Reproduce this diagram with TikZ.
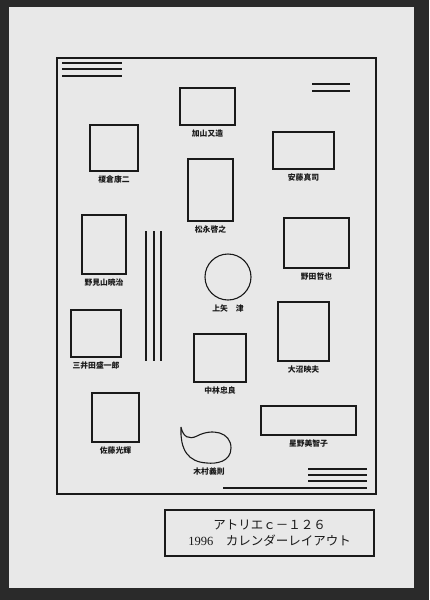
\documentclass[tikz,border=0pt]{standalone}
\usepackage{fontspec}
\setmainfont{Liberation Serif}
\newfontfamily\jpfont{Noto Sans CJK JP}
\usetikzlibrary{positioning}
\definecolor{fondo}{HTML}{2A2A2A}
\definecolor{hoja}{HTML}{E8E8E8}
\definecolor{tinta}{HTML}{1A1A1A}
\tikzset{
  raya/.style={draw=tinta, line width=1.1pt},
  foto/.style={raya, inner sep=0pt},
  nombre/.style={font=\jpfont\bfseries\fontsize{7.8}{9}\selectfont, text=tinta, inner sep=1pt},
}
\begin{document}
\begin{tikzpicture}[x=1pt,y=-1pt]
    % Fondo y hoja
    \fill[fondo] (0,0) rectangle (429,600);
    \fill[hoja] (9,7) rectangle (414,588);
    \useasboundingbox (0,0) rectangle (429,600);

    % Marco
    \draw[raya] (57,58) rectangle (376,494);

    % Fotos
    \foreach \nm/\cx/\cy/\w/\h/\val in {
        kayama/207.5/106.5/55/37/加山又造,
        enokura/114/148/48/46/榎倉康二,
        ando/303.5/150.5/61/37/安藤真司,
        matsunaga/210.5/190/45/62/松永啓之,
        nomiyama/104/244.5/44/59/野見山暁治,
        noda/316.5/243/65/50/野田哲也,
        miida/96/333.5/50/47/三井田盛一郎,
        onuma/303.5/331.5/51/59/大沼映夫,
        nakabayashi/220/358/52/48/中林忠良,
        sato/115.5/417.5/47/49/佐藤光輝,
        hoshino/308.5/420.5/95/29/星野美智子
        } {
        \node[foto, minimum width=\w pt, minimum height=\h pt] (\nm) at (\cx,\cy) {};
        \node[nombre, below=3pt of \nm] (\nm-txt) {\val};
    }

    % Circulo
    \node[foto, circle, minimum size=46pt] (kamiya) at (228,277) {};
    \node[nombre, below=3pt of kamiya] (kamiya-txt) {上矢　津};

    % Gota
    \draw[raya] (181,427) .. controls (183,437) and (189,440) .. (197,436)
        .. controls (212,428) and (231,432) .. (231,448)
        .. controls (231,462) and (216,464) .. (207,463)
        .. controls (188,462) and (180,450) .. (181,427);
    \coordinate (kimura) at (209,465);
    \node[nombre, below=2pt of kimura] (kimura-txt) {木村義則};

    % Rayas
    \foreach \y in {63,69,76} \draw[raya] (62,\y) -- (122,\y);
    \foreach \y in {84,91} \draw[raya] (312,\y) -- (350,\y);
    \foreach \x in {146,154,161} \draw[raya] (\x,231) -- (\x,361);
    \foreach \y in {469,475,481} \draw[raya] (308,\y) -- (367,\y);
    \draw[raya] (223,488) -- (367,488);

    % Titulo
    \node[raya, minimum width=209pt, minimum height=46pt, align=center,
        font=\fontsize{12.5}{16}\selectfont, text=tinta] (titulo) at (269.5,533)
        {{\jpfont アトリエｃ－１２６}\\1996\quad{\jpfont カレンダーレイアウト}};
\end{tikzpicture}
\end{document}
